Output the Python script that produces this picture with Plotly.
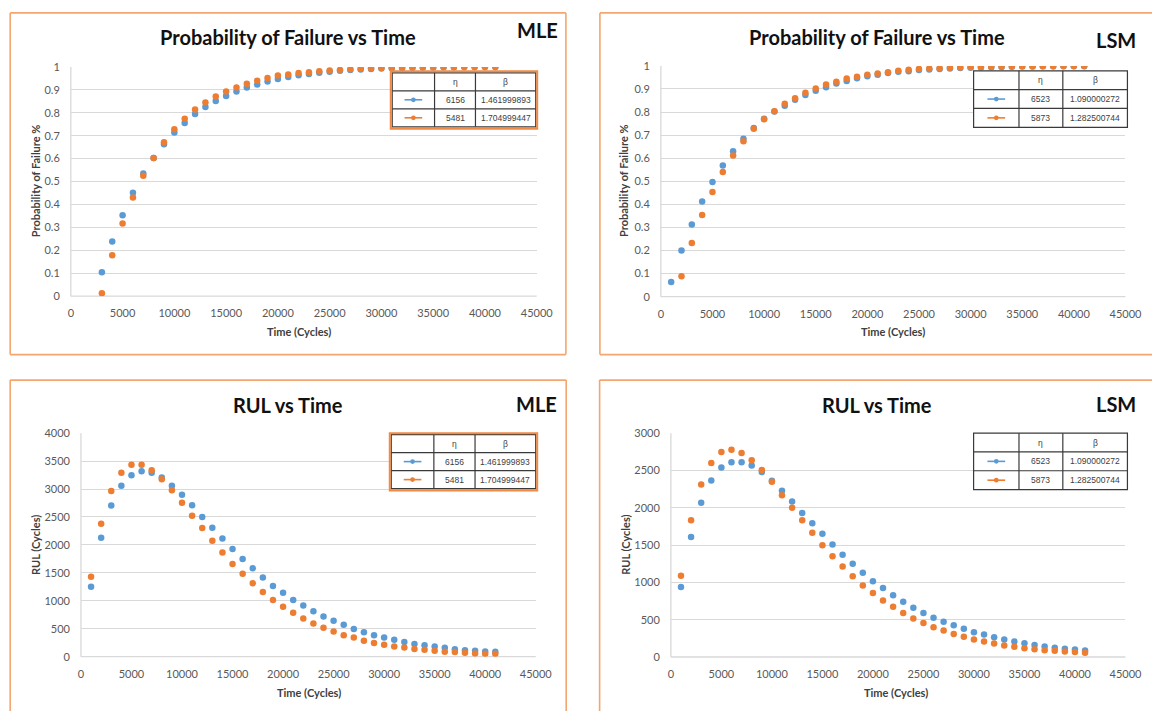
import plotly.graph_objects as go

W, H = 1169, 717

# ---------------- data ----------------
time_mle_prob = [3000, 4000, 5000, 6000, 7000, 8000, 9000, 10000, 11000, 12000, 13000,
                 14000, 15000, 16000, 17000, 18000, 19000, 20000, 21000, 22000, 23000,
                 24000, 25000, 26000, 27000, 28000, 29000, 30000, 31000, 32000, 33000,
                 34000, 35000, 36000, 37000, 38000, 39000, 40000, 41000]
mle_prob_s1 = [0.104, 0.238, 0.353, 0.451, 0.535, 0.603, 0.663, 0.714, 0.755, 0.794, 0.825,
               0.851, 0.873, 0.893, 0.910, 0.923, 0.936, 0.947, 0.956, 0.963, 0.969,
               0.974, 0.979, 0.983, 0.986, 0.989, 0.991, 0.993, 0.994, 0.995, 0.996,
               0.997, 0.997, 0.998, 0.998, 0.999, 0.999, 0.999, 0.999]
mle_prob_s2 = [0.013, 0.178, 0.317, 0.430, 0.525, 0.603, 0.671, 0.728, 0.774, 0.814, 0.845,
               0.871, 0.893, 0.910, 0.927, 0.940, 0.952, 0.962, 0.967, 0.973, 0.977,
               0.981, 0.984, 0.987, 0.990, 0.992, 0.994, 0.995, 0.996, 0.997, 0.998,
               0.998, 0.999, 0.999, 0.999, 1.000, 1.000, 1.000, 1.000]

time_lsm_prob_s1 = [1000, 2000, 3000, 4000, 5000, 6000, 7000, 8000, 9000, 10000, 11000,
                    12000, 13000, 14000, 15000, 16000, 17000, 18000, 19000, 20000, 21000,
                    22000, 23000, 24000, 25000, 26000, 27000, 28000, 29000, 30000, 31000,
                    32000, 33000, 34000, 35000, 36000, 37000, 38000, 39000, 40000, 41000]
lsm_prob_s1 = [0.064, 0.200, 0.313, 0.412, 0.497, 0.568, 0.630, 0.684, 0.731, 0.771, 0.802,
               0.827, 0.853, 0.874, 0.892, 0.908, 0.924, 0.935, 0.946, 0.955, 0.962,
               0.969, 0.975, 0.977, 0.982, 0.984, 0.987, 0.989, 0.991, 0.992, 0.993,
               0.994, 0.995, 0.996, 0.997, 0.997, 0.998, 0.998, 0.998, 0.999, 0.999]
time_lsm_prob_s2 = [2000, 3000, 4000, 5000, 6000, 7000, 8000, 9000, 10000, 11000,
                    12000, 13000, 14000, 15000, 16000, 17000, 18000, 19000, 20000, 21000,
                    22000, 23000, 24000, 25000, 26000, 27000, 28000, 29000, 30000, 31000,
                    32000, 33000, 34000, 35000, 36000, 37000, 38000, 39000, 40000, 41000]
lsm_prob_s2 = [0.088, 0.232, 0.354, 0.453, 0.540, 0.612, 0.674, 0.728, 0.769, 0.803,
               0.836, 0.860, 0.884, 0.902, 0.919, 0.931, 0.945, 0.953, 0.962, 0.967,
               0.973, 0.979, 0.983, 0.987, 0.989, 0.990, 0.992, 0.993, 0.994, 0.995,
               0.996, 0.997, 0.998, 0.998, 0.999, 0.999, 0.999, 1.000, 1.000, 1.000]

time_rul = [1000, 2000, 3000, 4000, 5000, 6000, 7000, 8000, 9000, 10000, 11000,
            12000, 13000, 14000, 15000, 16000, 17000, 18000, 19000, 20000, 21000,
            22000, 23000, 24000, 25000, 26000, 27000, 28000, 29000, 30000, 31000,
            32000, 33000, 34000, 35000, 36000, 37000, 38000, 39000, 40000, 41000]
mle_rul_s1 = [1250, 2126, 2704, 3060, 3247, 3317, 3293, 3206, 3060, 2896, 2709,
              2499, 2307, 2114, 1927, 1746, 1582, 1419, 1267, 1145, 1016,
              917, 812, 718, 642, 572, 496, 438, 385, 345, 304,
              263, 228, 204, 181, 158, 134, 117, 105, 93, 88]
mle_rul_s2 = [1431, 2377, 2966, 3293, 3434, 3434, 3334, 3177, 2978, 2756, 2523,
              2301, 2073, 1863, 1658, 1483, 1314, 1156, 1016, 893, 788,
              683, 596, 520, 450, 385, 345, 286, 245, 216, 181,
              164, 140, 123, 105, 88, 82, 70, 58, 53, 53]
lsm_rul_s1 = [937, 1607, 2067, 2365, 2540, 2610, 2610, 2566, 2479, 2361, 2229,
              2085, 1931, 1791, 1651, 1507, 1371, 1248, 1130, 1016, 924,
              828, 740, 661, 591, 526, 473, 425, 377, 333, 302,
              263, 236, 206, 184, 162, 140, 123, 109, 101, 88]
lsm_rul_s2 = [1090, 1831, 2312, 2601, 2746, 2777, 2733, 2637, 2505, 2347, 2168,
              2001, 1831, 1664, 1498, 1349, 1213, 1082, 959, 858, 758,
              674, 591, 517, 455, 399, 355, 307, 272, 236, 206,
              180, 153, 136, 118, 105, 92, 83, 74, 66, 57]

# Weibull parameters shown in the legend tables
mle_eta = ["6156", "5481"]
mle_beta = ["1.461999893", "1.704999447"]
lsm_eta = ["6523", "5873"]
lsm_beta = ["1.090000272", "1.282500744"]

# ---------------- styles ----------------
BLUE = "#5B9BD5"
ORANGE = "#ED7D31"
FRAME = "#F4A66E"
GRID = "#D9D9D9"
TICK = "#595959"
FONT = "Lato"


def fx(px):
    return px / W


def fy(py):
    return 1 - py / H


def seg(x0, y0, x1, y1, color, width, layer="above"):
    return dict(type="line", xref="paper", yref="paper",
                x0=fx(x0), x1=fx(x1), y0=fy(y0), y1=fy(y1),
                line=dict(color=color, width=width), layer=layer)


fig = go.Figure()
shapes = []
annotations = []

# panel geometry (pixels): plot area x0, x1, y_top, y_bottom; frame sides drawn per panel
panels = [
    dict(ax="", x0=69, x1=543, yt=61, yb=294.5, ymax=1, dtick=0.1,
         title="Probability of Failure vs Time", tag="MLE", ytitle="Probability of Failure %",
         series=[(time_mle_prob, mle_prob_s1, BLUE), (time_mle_prob, mle_prob_s2, ORANGE)],
         frame=(7.3, 572.7, 6, 354), sides="LTRB", title_c=(290, 31), tag_c=(544, 23),
         table=(396, 542, 67, 122), eta=mle_eta, beta=mle_beta, orange_box=True,
         xt_c=(301, 331), yt_c=(33, 177)),
    dict(ax="2", x0=669.3, x1=1142, yt=60, yb=295, ymax=1, dtick=0.1,
         title="Probability of Failure vs Time", tag="LSM", ytitle="Probability of Failure %",
         series=[(time_lsm_prob_s1, lsm_prob_s1, BLUE), (time_lsm_prob_s2, lsm_prob_s2, ORANGE)],
         frame=(607.3, 1169, 6, 354), sides="LTB", title_c=(889, 31), tag_c=(1132, 34),
         table=(987.5, 1144, 65, 122.5), eta=lsm_eta, beta=lsm_beta, orange_box=False,
         xt_c=(905, 331), yt_c=(632, 177)),
    dict(ax="3", x0=79.3, x1=542, yt=434, yb=661.7, ymax=4000, dtick=500,
         title="RUL vs Time", tag="MLE", ytitle="RUL (Cycles)",
         series=[(time_rul, mle_rul_s1, BLUE), (time_rul, mle_rul_s2, ORANGE)],
         frame=(7.3, 573, 380, 717), sides="LTR", title_c=(290, 405), tag_c=(543, 404),
         table=(395, 542, 435.5, 490.5), eta=mle_eta, beta=mle_beta, orange_box=True,
         xt_c=(311, 698), yt_c=(32.5, 548)),
    dict(ax="4", x0=679.5, x1=1142, yt=434, yb=662, ymax=3000, dtick=500,
         title="RUL vs Time", tag="LSM", ytitle="RUL (Cycles)",
         series=[(time_rul, lsm_rul_s1, BLUE), (time_rul, lsm_rul_s2, ORANGE)],
         frame=(607, 1169, 380, 717), sides="LT", title_c=(889, 405), tag_c=(1132, 404),
         table=(987.5, 1144, 434, 491.5), eta=lsm_eta, beta=lsm_beta, orange_box=False,
         xt_c=(909, 698), yt_c=(632.5, 548)),
]

layout_axes = {}
for p in panels:
    xa = "x" + p["ax"]
    ya = "y" + p["ax"]
    for xs, ys, col in p["series"]:
        fig.add_trace(go.Scatter(
            x=xs, y=ys, mode="markers", xaxis=xa, yaxis=ya,
            marker=dict(color=col, size=6.5, line=dict(width=0)),
            showlegend=False, hoverinfo="x+y"))

    layout_axes["xaxis" + p["ax"]] = dict(
        domain=[fx(p["x0"]), fx(p["x1"])], anchor=ya, range=[0, 45000],
        dtick=5000, tick0=0, tickformat="d", showgrid=False, zeroline=False,
        showline=False, ticks="", ticklabelstandoff=9,
        tickfont=dict(family=FONT, size=11, color=TICK), fixedrange=True)
    layout_axes["yaxis" + p["ax"]] = dict(
        domain=[fy(p["yb"]), fy(p["yt"])], anchor=xa, range=[0, p["ymax"]],
        dtick=p["dtick"], tick0=0, showgrid=True, gridcolor=GRID, gridwidth=1.3,
        zeroline=False, showline=False, ticks="", ticklabelstandoff=10,
        tickfont=dict(family=FONT, size=11, color=TICK), fixedrange=True)

    # plot-area left edge and baseline
    shapes.append(seg(p["x0"], p["yb"], p["x0"], p["yt"], GRID, 1.3, "below"))
    shapes.append(seg(p["x0"], p["yb"], p["x1"], p["yb"], GRID, 1.3, "below"))

    # chart frame (sides running off the page are left open)
    l, r, t, b = p["frame"]
    if "L" in p["sides"]:
        shapes.append(seg(l, t, l, b, FRAME, 1.6))
    if "T" in p["sides"]:
        shapes.append(seg(l, t, r, t, FRAME, 1.6))
    if "R" in p["sides"]:
        shapes.append(seg(r, t, r, b, FRAME, 1.6))
    if "B" in p["sides"]:
        shapes.append(seg(l, b, r, b, FRAME, 1.6))

    # titles
    annotations.append(dict(text="<b>" + p["title"] + "</b>", xref="paper", yref="paper",
                            x=fx(p["title_c"][0]), y=fy(p["title_c"][1]),
                            xanchor="center", yanchor="middle", showarrow=False,
                            font=dict(family=FONT, size=20, color="#111111")))
    annotations.append(dict(text="<b>" + p["tag"] + "</b>", xref="paper", yref="paper",
                            x=fx(p["tag_c"][0]), y=fy(p["tag_c"][1]),
                            xanchor="center", yanchor="middle", showarrow=False,
                            font=dict(family=FONT, size=20, color="#111111")))
    annotations.append(dict(text="<b>Time (Cycles)</b>", xref="paper", yref="paper",
                            x=fx(p["xt_c"][0]), y=fy(p["xt_c"][1]),
                            xanchor="center", yanchor="middle", showarrow=False,
                            font=dict(family=FONT, size=11, color="#404040")))
    annotations.append(dict(text="<b>" + p["ytitle"] + "</b>", xref="paper", yref="paper",
                            x=fx(p["yt_c"][0]), y=fy(p["yt_c"][1]), textangle=-90,
                            xanchor="center", yanchor="middle", showarrow=False,
                            font=dict(family=FONT, size=11, color="#404040")))

    # parameter table used as legend
    tx0, tx1, ty0, ty1 = p["table"]
    w = tx1 - tx0
    cols = [tx0, tx0 + 0.295 * w, tx0 + 0.58 * w, tx1]
    rh = (ty1 - ty0) / 3.0
    rows = [ty0, ty0 + rh, ty0 + 2 * rh, ty1]
    shapes.append(dict(type="rect", xref="paper", yref="paper",
                       x0=fx(tx0), x1=fx(tx1), y0=fy(ty1), y1=fy(ty0),
                       line=dict(color="#3A3A3A", width=1.2), fillcolor="white",
                       layer="above"))
    for cx in cols[1:3]:
        shapes.append(seg(cx, ty1, cx, ty0, "#3A3A3A", 1.2))
    for ry in rows[1:3]:
        shapes.append(seg(tx0, ry, tx1, ry, "#3A3A3A", 1.2))
    if p["orange_box"]:
        shapes.append(dict(type="rect", xref="paper", yref="paper",
                           x0=fx(tx0 - 1.5), x1=fx(tx1 + 1.5), y0=fy(ty1 + 2), y1=fy(ty0 - 1.5),
                           line=dict(color="#F08A45", width=2), fillcolor="rgba(0,0,0,0)",
                           layer="above"))
    cc = [(cols[i] + cols[i + 1]) / 2 for i in range(3)]
    rc = [(rows[i] + rows[i + 1]) / 2 for i in range(3)]
    tfont = dict(family="Liberation Sans", size=8.5, color="#404040")
    annotations.append(dict(text="η", xref="paper", yref="paper", x=fx(cc[1]), y=fy(rc[0]),
                            xanchor="center", yanchor="middle", showarrow=False, font=tfont))
    annotations.append(dict(text="β", xref="paper", yref="paper", x=fx(cc[2]), y=fy(rc[0]),
                            xanchor="center", yanchor="middle", showarrow=False, font=tfont))
    for i, col in enumerate([BLUE, ORANGE]):
        annotations.append(dict(text=p["eta"][i], xref="paper", yref="paper",
                                x=fx(cc[1]), y=fy(rc[i + 1]), xanchor="center",
                                yanchor="middle", showarrow=False, font=tfont))
        annotations.append(dict(text=p["beta"][i], xref="paper", yref="paper",
                                x=fx(cc[2]), y=fy(rc[i + 1]), xanchor="center",
                                yanchor="middle", showarrow=False, font=tfont))
        shapes.append(seg(cc[0] - 9, rc[i + 1], cc[0] + 9, rc[i + 1], col, 1.6))
        shapes.append(dict(type="circle", xref="paper", yref="paper",
                           x0=fx(cc[0] - 2.4), x1=fx(cc[0] + 2.4),
                           y0=fy(rc[i + 1] + 2.4), y1=fy(rc[i + 1] - 2.4),
                           line=dict(color=col, width=0), fillcolor=col, layer="above"))

fig.update_layout(
    width=W, height=H, margin=dict(l=0, r=0, t=0, b=0),
    paper_bgcolor="white", plot_bgcolor="white",
    shapes=shapes, annotations=annotations, showlegend=False,
    **layout_axes,
)

# keep the figure flush with the page corner
fig.write_html("out.html", config=dict(displayModeBar=False),
               post_script="document.body.style.margin='0';")
